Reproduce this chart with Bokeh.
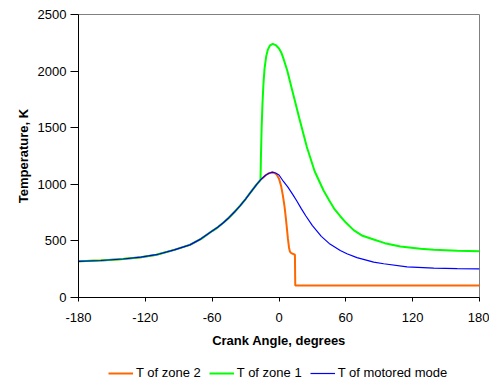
from bokeh.plotting import figure
from bokeh.layouts import column
from bokeh.models import Range1d, FixedTicker, Legend, LegendItem
from bokeh.embed import file_html
from bokeh.resources import INLINE

# Crank angle (deg) and temperature (K)
zone2_x = [-180, -160, -140, -124, -110, -94, -80, -70, -60, -55, -50, -45, -40, -35, -30, -25,
           -20, -16, -12, -9, -6, -4, -2, 0, 2, 3.5, 5, 6, 7, 8, 9, 9.8, 11, 14.3, 14.6, 60, 120, 180]
zone2_y = [320, 327, 340, 356, 378, 421, 465, 518, 587, 620, 660, 705, 755, 810, 870, 935,
           1000, 1045, 1080, 1098, 1105, 1100, 1085, 1050, 980, 900, 800, 715, 620, 520, 440, 405,
           392, 378, 105, 105, 105, 105]

zone1_x = [-180, -160, -140, -124, -110, -94, -80, -70, -60, -55, -50, -45, -40, -35, -30, -25,
           -20, -16.6, -16.2, -15.6, -14.8, -14.0, -13, -11.5, -10, -8, -5.6, -3, 0, 2, 4, 7.4,
           11.9, 15, 18, 25, 32, 40, 45, 50, 55, 60, 67, 75, 85, 95, 109, 127, 139, 160, 180]
zone1_y = [320, 327, 340, 356, 378, 421, 465, 518, 587, 620, 660, 705, 755, 810, 870, 935,
           1000, 1040, 1250, 1500, 1720, 1880, 2020, 2130, 2190, 2228, 2241, 2230, 2200, 2165, 2110,
           2005, 1829, 1710, 1593, 1330, 1115, 945, 860, 778, 718, 662, 595, 545, 512, 480, 450,
           430, 421, 412, 409]

motored_x = [-180, -160, -140, -124, -110, -94, -80, -70, -60, -55, -50, -45, -40, -35, -30, -25,
             -20, -16, -12, -9, -6, -3, 0, 4, 8, 12, 16, 20, 24, 30, 38, 45, 55, 61, 70, 85, 94,
             115, 139, 160, 180]
motored_y = [320, 327, 340, 356, 378, 421, 465, 518, 587, 620, 660, 705, 755, 810, 870, 935,
             1000, 1045, 1080, 1098, 1107, 1100, 1082, 1025, 975, 915, 852, 785, 722, 635, 540,
             478, 415, 386, 352, 312, 298, 270, 260, 255, 252]

x_ticks = [-180, -120, -60, 0, 60, 120, 180]
x_tick_labels = ["-180", "-120", "-60", "0", "60", "120", "180"]
y_ticks = [0, 500, 1000, 1500, 2000, 2500]
labels = ["T of zone 2", "T of zone 1", "T of motored mode"]
colors = ["#FF6600", "#00FF00", "#0000FF"]
widths = [2, 2, 1.2]
series = [(zone2_x, zone2_y), (zone1_x, zone1_y), (motored_x, motored_y)]

FONT = "Liberation Sans"

p = figure(frame_width=401, frame_height=283, output_backend="svg", toolbar_location=None,
           x_range=Range1d(-180, 180), y_range=Range1d(0, 2500),
           min_border_left=78, min_border_right=10, min_border_top=14, min_border_bottom=50)

for (sx, sy), col, w in zip(series, colors, widths):
    p.line(sx, sy, line_color=col, line_width=w)

p.xgrid.visible = False
p.ygrid.visible = False
p.outline_line_color = "#808080"
p.outline_line_width = 1

p.xaxis.ticker = FixedTicker(ticks=x_ticks)
p.yaxis.ticker = FixedTicker(ticks=y_ticks)
p.xaxis.major_label_overrides = dict(zip(x_ticks, x_tick_labels))
p.xaxis.minor_tick_line_color = None
p.yaxis.minor_tick_line_color = None

for ax in (p.xaxis[0], p.yaxis[0]):
    ax.axis_line_color = "black"
    ax.major_tick_line_color = "black"
    ax.major_tick_in = 0
    ax.major_label_text_font = FONT
    ax.major_label_text_font_size = "13px"
    ax.major_label_text_color = "black"
    ax.axis_label_text_font = FONT
    ax.axis_label_text_font_size = "13px"
    ax.axis_label_text_font_style = "bold"
    ax.axis_label_text_color = "black"

p.xaxis.axis_label = "Crank Angle, degrees"
p.yaxis.axis_label = "Temperature, K"
p.xaxis.major_tick_out = 4
p.yaxis.major_tick_out = 8
p.xaxis.major_label_standoff = 11
p.yaxis.major_label_standoff = 4
p.xaxis.axis_label_standoff = 8
p.yaxis.axis_label_standoff = 4

# Separate strip for the legend below the chart (series kept out of its view)
p2 = figure(width=489, height=30, output_backend="svg", toolbar_location=None,
            x_range=Range1d(1000, 1001), y_range=Range1d(-2, -1),
            x_axis_type=None, y_axis_type=None, min_border=0)
p2.outline_line_color = None
p2.xgrid.visible = False
p2.ygrid.visible = False
items = []
for lab, (sx, sy), col, w in zip(labels, series, colors, widths):
    r = p2.line(sx, sy, line_color=col, line_width=w)
    items.append(LegendItem(label=lab, renderers=[r]))

legend = Legend(items=items, orientation="horizontal", location=(30, 0),
                border_line_color=None, background_fill_alpha=0,
                label_text_font=FONT, label_text_font_size="13px", label_text_color="black",
                glyph_width=25, glyph_height=12, label_standoff=3, spacing=8,
                padding=0, margin=0)
p2.add_layout(legend, "center")

layout = column(p, p2, spacing=0)
open("out.html", "w").write(file_html(layout, INLINE))
